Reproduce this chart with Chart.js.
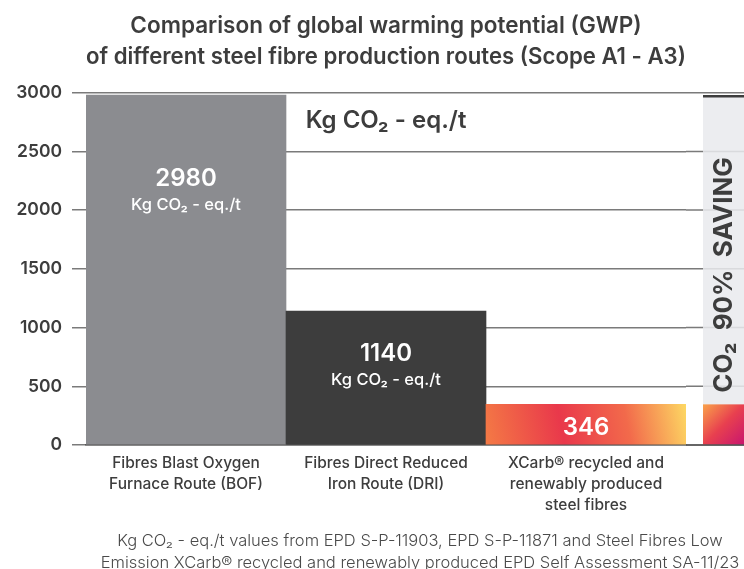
<!DOCTYPE html>
<html>
<head>
<meta charset="utf-8">
<script src="https://cdn.jsdelivr.net/npm/chart.js@4"></script>
<style>
  html, body { margin: 0; padding: 0; background: #fff; }
  #wrap { width: 744px; height: 569px; }
</style>
</head>
<body>
<div id="wrap"><canvas id="gwpChart"></canvas></div>
<script>
const routes = [
  ['Fibres Blast Oxygen', 'Furnace Route (BOF)'],
  ['Fibres Direct Reduced', 'Iron Route (DRI)'],
  ['XCarb® recycled and', 'renewably produced', 'steel fibres']
];
const gwpValues = [2980, 1140, 346];
const yTicks = [0, 500, 1000, 1500, 2000, 2500, 3000];
const unitText = 'Kg CO₂ - eq./t';
const savingText = 'CO₂  90%  SAVING';
const titleLines = [
  'Comparison of global warming potential (GWP)',
  'of different steel fibre production routes (Scope A1 - A3)'
];
const noteLines = [
  'Kg CO₂ - eq./t values from EPD S-P-11903, EPD S-P-11871 and Steel Fibres Low',
  'Emission XCarb® recycled and renewably produced EPD Self Assessment SA-11/23'
];

const FONT = 'Inter, "Noto Sans", sans-serif';
const DARK = '#3d3d3d';
const GRID = '#7a7a7a';
const STRIP_X = 703;
const labelOffsets = [84, 43, 23];

const xcarbGradient = (ctx, left, right, top, bottom) => {
  const g = ctx.createLinearGradient(left, bottom, right, top);
  g.addColorStop(0, '#f47a45');
  g.addColorStop(0.38, '#e9384b');
  g.addColorStop(0.7, '#f26a4b');
  g.addColorStop(1, '#fdd863');
  return g;
};

const barColor = (context) => {
  const chart = context.chart;
  if (context.dataIndex !== 2) return ['#8b8c90', DARK][context.dataIndex];
  if (!chart.chartArea) return '#ea4a4a';
  const { x, y } = chart.scales;
  const half = x.width / routes.length / 2;
  const cx = x.getPixelForValue(2);
  return xcarbGradient(chart.ctx, cx - half, cx + half, y.getPixelForValue(gwpValues[2]), y.getPixelForValue(0));
};

const extrasPlugin = {
  id: 'extras',
  beforeDatasetsDraw(chart) {
    const { ctx, chartArea, scales: { y } } = chart;
    ctx.save();
    // grid lines carry on past the plot to the page edge
    ctx.strokeStyle = GRID;
    ctx.lineWidth = 1.5;
    yTicks.forEach((v) => {
      const py = y.getPixelForValue(v);
      ctx.beginPath();
      ctx.moveTo(chartArea.right, py);
      ctx.lineTo(chart.width, py);
      ctx.stroke();
    });

    // saving strip
    const top = y.getPixelForValue(gwpValues[0]);
    const low = y.getPixelForValue(gwpValues[2]);
    const bottom = y.getPixelForValue(0);
    const w = chart.width - STRIP_X;
    ctx.fillStyle = 'rgba(233,234,237,0.86)';
    ctx.fillRect(STRIP_X, top, w, bottom - top);
    ctx.fillStyle = DARK;
    ctx.fillRect(STRIP_X, top, w, 2.5);
    const g = ctx.createLinearGradient(STRIP_X, low, chart.width, bottom);
    g.addColorStop(0, '#f9a24a');
    g.addColorStop(0.5, '#e8404f');
    g.addColorStop(1, '#c8156f');
    ctx.fillStyle = g;
    ctx.fillRect(STRIP_X, low, w, bottom - low);

    ctx.translate(STRIP_X + w / 2 + 1, bottom - 170);
    ctx.rotate(-Math.PI / 2);
    ctx.fillStyle = DARK;
    ctx.font = `bold 26px ${FONT}`;
    ctx.textAlign = 'center';
    ctx.textBaseline = 'middle';
    ctx.fillText(savingText, 0, 0);
    ctx.restore();

    // axis line continues too
    ctx.save();
    ctx.strokeStyle = '#555';
    ctx.lineWidth = 1.5;
    ctx.beginPath();
    ctx.moveTo(chartArea.right, bottom);
    ctx.lineTo(chart.width, bottom);
    ctx.stroke();
    ctx.restore();
  },
  afterDatasetsDraw(chart) {
    const { ctx } = chart;
    const bars = chart.getDatasetMeta(0).data;
    ctx.save();
    ctx.fillStyle = '#fff';
    ctx.textAlign = 'center';
    ctx.textBaseline = 'middle';
    bars.forEach((bar, i) => {
      const ly = bar.y + labelOffsets[i];
      ctx.font = `600 24px ${FONT}`;
      ctx.fillText(String(gwpValues[i]), bar.x, ly);
      if (i < 2) {
        ctx.font = `500 16.5px ${FONT}`;
        ctx.fillText(unitText, bar.x, ly + 26);
      }
    });
    ctx.restore();
  },
  afterDraw(chart) {
    const { ctx, chartArea, scales: { x } } = chart;
    ctx.save();
    ctx.fillStyle = DARK;
    ctx.textAlign = 'center';
    ctx.textBaseline = 'middle';
    ctx.font = `600 24px ${FONT}`;
    ctx.fillText(unitText, x.getPixelForValue(1), chartArea.top + 28);

    ctx.fillStyle = '#4a4a4a';
    ctx.font = `300 16.5px ${FONT}`;
    noteLines.forEach((line, i) => ctx.fillText(line, 420, 541 + i * 22));
    ctx.restore();
  }
};

new Chart(document.getElementById('gwpChart'), {
  type: 'bar',
  data: {
    labels: routes,
    datasets: [{
      data: gwpValues,
      backgroundColor: barColor,
      borderWidth: 0,
      barPercentage: 1,
      categoryPercentage: 1
    }]
  },
  options: {
    responsive: true,
    maintainAspectRatio: false,
    animation: false,
    layout: { padding: { left: 0, right: 58, top: 0, bottom: 49 } },
    plugins: {
      legend: { display: false },
      tooltip: { enabled: false },
      title: {
        display: true,
        fullSize: false,
        text: titleLines,
        color: DARK,
        font: { family: FONT, size: 22.5, weight: '600', lineHeight: 1.37 },
        padding: { top: 11, bottom: 20 }
      }
    },
    scales: {
      x: {
        grid: { display: false },
        border: { display: true, color: '#555', width: 1.5 },
        ticks: {
          color: DARK,
          padding: 0,
          maxRotation: 0,
          font: { family: FONT, size: 15.5, weight: '500', lineHeight: 1.35 }
        },
        afterFit: (scale) => { scale.height = 75; }
      },
      y: {
        min: 0,
        max: 3000,
        afterBuildTicks: (scale) => { scale.ticks = yTicks.map((v) => ({ value: v })); },
        grid: { color: GRID, lineWidth: 1.5, tickLength: 14 },
        border: { display: false },
        ticks: {
          color: DARK,
          padding: 10,
          callback: (v) => String(v),
          font: { family: FONT, size: 17.5, weight: '600' }
        },
        afterFit: (scale) => { scale.width = 86; }
      }
    }
  },
  plugins: [extrasPlugin]
});
</script>
</body>
</html>
